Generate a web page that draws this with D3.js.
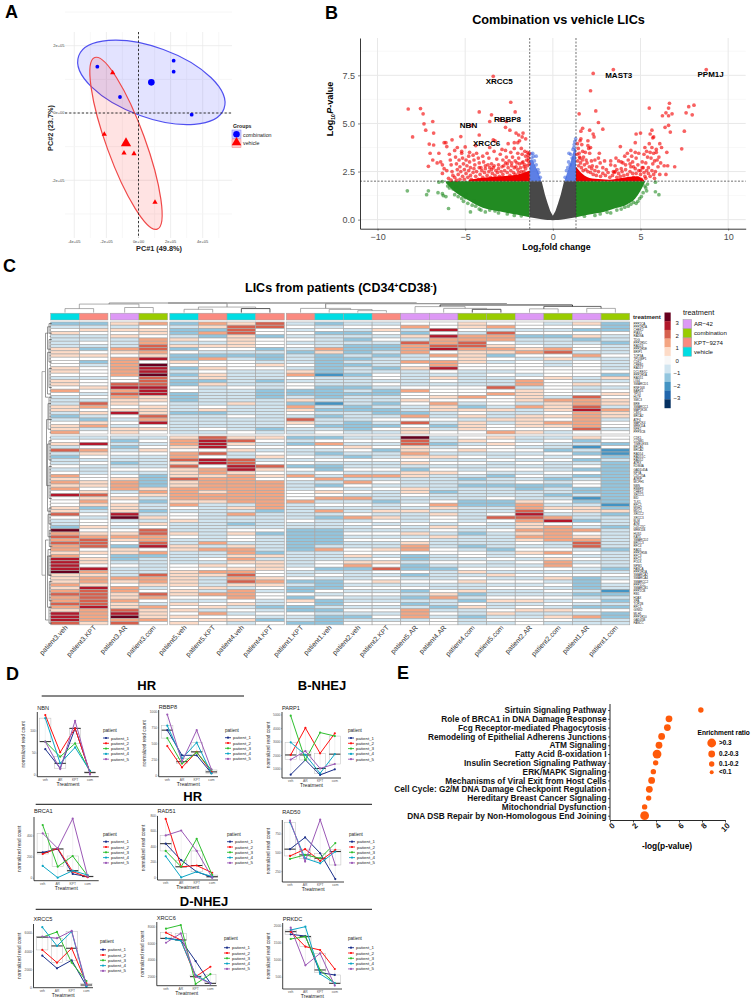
<!DOCTYPE html>
<html><head><meta charset="utf-8">
<script src="https://cdn.jsdelivr.net/npm/d3@7"></script>
<style>html,body{margin:0;padding:0;background:#fff}svg{display:block}text{font-family:"Liberation Sans",Arial,sans-serif}</style>
</head><body><svg id="c" width="753" height="1000"></svg>
<script>
// ===== DATA =====
// Panel A
const pcaCombination=[[-2.565,1.377],[-1.153,.475],[2.19,1.555],[2.19,1.228],[3.313,-.05]];
const pcaVehicle=[[-1.61,1.198],[-2.13,-.634],[-.903,-1.189],[-.28,-1.208],[1.028,-2.655]];
const pcaCentroids=[[.8,.911],[-.779,-.901]];
const pcaXTicks=[-4,-2,0,2,4], pcaYTicks=[-2,0,2];
const pcaXLabels=["-4e+05","-2e+05","0e+00","2e+05","4e+05"], pcaYLabels=["-2e+05","0e+00","2e+05"];
// Panel B
const volcanoGenes=[["XRCC5",-3.06,7.17],["NBN",-4.81,4.88],["RBBP8",-2.59,5.21],["XRCC6",-3.78,3.97],["MAST3",3.76,7.52],["PPM1J",9,7.53]];
const greenEnvR=[[1.32,.12],[2,.25],[3,.42],[3.6,.6],[4.2,.78],[4.7,1.1],[5,1.5],[5.25,1.95]];
const greenEnvL=[[-6.1,1.9],[-5.6,1.45],[-4.9,1.05],[-4,.62],[-3,.42],[-2,.25],[-1.32,.12]];
const grayTop=[[-1.32,2],[-.64,2],[-.45,1.3],[-.3,.85],[-.15,.45],[0,.2],[.15,.45],[.3,.85],[.45,1.3],[.64,2],[1.32,2]];
const grayLow=[-.6,-.03,.0,.04,.12];
const blueEnvL=[[2,-1.32,-.66],[2.4,-1.32,-.8],[2.8,-1.32,-1],[3.1,-1.32,-1.15]];
const blueEnvR=[[2,.66,1.32],[2.4,.8,1.32],[2.8,.95,1.32],[3.2,1.08,1.32],[3.7,1.22,1.32]];
const redEnvL=[[-4.8,2.08],[-4,2.18],[-3,2.25],[-2,2.35],[-1.32,2.55]];
const redEnvR=[[1.32,2.75],[1.8,2.3],[2.4,2.12],[3.2,2.08],[4,2.18],[4.8,2.25],[5.2,2.05]];
const bluePoints=[[-1.25,3.42],[-1.15,3.45],[-1.1,3.3],[-1.05,3.05],[-.95,2.85],[-.85,2.6],[-1.2,3.2],[-.95,3.3],[-.8,2.45],[-.72,2.2],[1.3,4.2],[1.25,4.05],[1.22,3.9],[1.15,3.65],[1.02,3.4],[.92,3.45],[.9,3],[.78,2.55],[.7,2.2],[1.1,3.2],[.98,2.85],[1.2,3.75],[.85,2.7]];
const redPointsL=[[-8.25,5.75],[-7.55,5.77],[-7.4,5.5],[-7.35,4.98],[-6.85,5.1],[-7.25,4.65],[-6.8,4.5],[-8,4.3],[-7.05,3.93],[-6.8,3.88],[-7,3.45],[-6.85,3.1],[-7.1,2.77],[-6.6,2.95],[-6.5,3.45],[-6.2,4],[-6.1,4],[-5.75,4.15],[-5.25,4.32],[-6.05,3.8],[-5,3.78],[-5.2,3.55],[-4.75,3.5],[-4.2,5.6],[-4.65,4.9],[-4.2,4.4],[-3.5,5.45],[-3.6,5.1],[-2.4,6.1],[-2.15,5.6],[-3.4,7.45],[-3,5.2],[-2.65,5.1],[-2.7,4.8],[-2.45,4.65],[-2.1,4.5],[-1.95,4.4],[-1.7,4.5],[-1.55,4.2],[-3.3,4.1],[-3.4,4.15],[-2,4],[-2.2,4],[-1.9,4.1],[-1.75,4.3],
[-6.4,3],[-6.3,2.85],[-6.2,2.65],[-6.3,2.4],[-6.05,2.55],[-5.9,3.4],[-5.85,3.1],[-5.8,2.85],[-5.75,2.5],[-5.7,2.3],[-5.6,3.6],[-5.55,3.25],[-5.5,2.9],[-5.45,2.6],[-5.35,3.1],[-5.3,2.75],[-5.2,3.45],[-5.15,3.2],[-5.1,2.9],[-5.05,2.6],[-4.95,3.1],[-4.9,2.8],[-4.8,3.3],[-4.75,3],[-4.7,2.7],[-4.55,3.35],[-4.5,3.1],[-4.45,2.85],[-4.35,3.45],[-4.25,3.2],[-4.2,2.95],[-4.1,2.7],[-4,3.3],[-3.95,3],[-3.85,2.8],[-3.75,3.45],[-3.65,3.2],[-3.6,2.7],[-3.5,2.9],[-3.4,2.7],[-3.35,3.55],[-3.2,3.15],[-3.1,2.85],[-3,3.4],[-2.9,3.65],[-2.85,3.1],[-2.8,2.8],[-2.7,3.6],[-2.65,3.25],[-2.6,2.9],[-2.5,3.05],[-2.4,3.5],[-2.35,2.8],[-2.3,3.25],[-2.2,3.7],[-2.15,3.05],[-2.1,2.75],[-2,3.45],[-1.95,3.2],[-1.9,2.9],[-1.8,3.7],[-1.75,3.4],[-1.7,3],[-1.65,2.75],[-1.6,3.55],[-1.55,3.3],[-1.5,3.1],[-1.45,3.5],[-1.4,3.35],[-1.35,3.45],[-3.6,3.75],[-4.4,3.85],[-5.45,3.75],[-2.55,3.95]];
const redDenseL=[[-5.95,2.15],[-5.8,2.05],[-5.6,2.2],[-5.5,2.05],[-5.4,2.35],[-5.3,2.1],[-5.25,2.5],[-5.15,2.25],[-5.05,2.1],[-4.95,2.4],[-4.85,2.2],[-4.8,2.55],[-4.7,2.3],[-4.65,2.1],[-4.55,2.45],[-4.5,2.65],[-4.4,2.25],[-4.35,2.5],[-4.25,2.1],[-4.2,2.7],[-4.15,2.35],[-4.05,2.55],[-4,2.2],[-3.9,2.45],[-3.85,2.65],[-3.75,2.3],[-3.7,2.85],[-3.65,2.5],[-3.55,2.2],[-3.5,2.6],[-3.45,2.4],[-3.35,2.8],[-3.3,2.3],[-3.25,2.55],[-3.15,2.45],[-3.1,2.65],[-3.05,2.25],[-2.95,2.5],[-2.9,2.75],[-2.85,2.35],[-2.75,2.55],[-2.7,2.95],[-2.6,2.45],[-2.55,2.7],[-2.45,2.3],[-2.4,2.55],[-2.35,2.95],[-2.25,2.45],[-2.2,2.7],[-2.15,2.35],[-2.05,2.95],[-2,2.6],[-1.95,2.45],[-1.85,2.7],[-1.8,2.5],[-1.75,2.95],[-1.65,2.5],[-1.6,2.85],[-1.55,2.65],[-1.45,2.8],[-1.4,3.05],[-1.35,2.9],[-1.38,3.2]];
const redPointsR=[[2.3,7.6],[3.45,7.8],[8.75,7.8],[2.15,6.7],[2.45,5.65],[1.5,5.5],[2.6,5.05],[2.85,4.7],[1.7,4.75],[1.6,4.6],[2.1,4.65],[2.3,4.45],[2.35,4.3],[1.6,4.2],[1.55,4.1],[2,4.1],[5.5,5.8],[6.65,6.05],[6.6,5.8],[8.05,5.95],[7.75,5.87],[7.6,5.55],[7.95,5.45],[6.25,5.4],[6.45,5.55],[6.6,5.4],[6.8,5.5],[6.4,4.8],[6.6,4.9],[6.7,4.55],[7.5,4.6],[7.35,3.68],[6.95,2.75],[6.55,2.8],[6.35,2.8],[6.45,2.35],[6.1,2.35],[5.8,2.15],[6.5,3.5],[6.1,3.95],[6.2,3.75],[5.65,4.65],[5.55,4.45],[4.75,4.45],[5,4.5],[4.7,4],[3.85,3.8],[3.6,3.2],[3.9,3],[5.75,4.3],[5.7,4.25],
[1.4,3.95],[1.45,3.7],[1.5,3.45],[1.55,3.2],[1.65,3.9],[1.7,3.55],[1.75,3.25],[1.85,3.5],[1.9,3.1],[2,3.85],[2.05,3.7],[2.1,3.45],[2.15,3.75],[2.2,3.05],[2.25,2.8],[2.4,3.1],[2.5,2.75],[2.65,3.45],[2.7,2.95],[2.85,2.7],[2.95,3.05],[3.05,2.6],[3.3,2.85],[3.45,2.5],[3.55,2.8],[3.65,2.6],[3.75,3.05],[3.9,2.65],[4,2.95],[4.1,3.3],[4.15,2.85],[4.25,3.45],[4.3,3.1],[4.4,2.9],[4.45,3.6],[4.5,3.3],[4.55,3],[4.6,2.75],[4.7,3.5],[4.75,3.2],[4.85,2.85],[4.9,3.45],[5,2.55],[5.1,3],[5.15,2.7],[5.2,3.4],[5.25,3.75],[5.3,2.95],[5.35,3.55],[5.4,3.25],[5.45,2.7],[5.5,3.95],[5.55,3.5],[5.6,3.2],[5.65,3.75],[5.7,2.9],[5.75,3.45],[5.8,3.05],[5.85,2.5],[5.9,3.5],[5.95,3.1],[6,2.75],[6.05,3.25],[6.15,2.95],[5.45,2.4],[5.3,2.15],[3.3,3.05],[3.5,2.45],[2.6,3.2],[5.9,3.65]];
const redDenseR=[[1.38,3.4],[1.42,3.05],[1.47,2.8],[1.52,3.25],[1.58,2.95],[1.63,2.7],[1.68,3.1],[1.73,2.55],[1.8,2.85],[1.88,2.6],[1.95,2.95],[2,2.5],[2.08,2.75],[2.15,2.45],[2.22,2.65],[2.3,2.35],[2.4,2.55],[2.48,2.3],[2.6,2.5],[2.72,2.25],[2.85,2.4],[3,2.3],[3.15,2.45],[3.25,2.2],[3.4,2.3],[3.55,2.5],[3.65,2.2],[3.75,2.4],[3.85,2.25],[3.95,2.5],[4.05,2.3],[4.15,2.6],[4.25,2.35],[4.3,2.15],[4.4,2.5],[4.45,2.75],[4.55,2.4],[4.6,2.2],[4.7,2.65],[4.75,2.4],[4.85,2.15],[4.9,2.55],[5,2.35],[5.05,2.1],[5.1,2.7],[5.2,2.45],[5.25,2.25],[5.35,2.55],[5.55,2.25],[5.65,2.55],[5.75,2.35]];
const greenPoints=[[-8.3,1.5],[-7.2,1.3],[-7.1,1.5],[-6.55,1.4],[-6.3,1.35],[-6.25,1.25],[-6.1,1.2],[-5.9,1.65],[-5.7,1.6],[-5.4,1.2],[-5.3,1.55],[-5.2,1.1],[-4.95,1.3],[-4.7,.4],[-4.6,.75],[-4.5,.95],[-5.95,.58],[-6.5,1.95],[-6.3,1.98],[-5.85,1.85],[-4.2,.55],[-3.85,.4],[-3.3,.45],[-2.6,.3],[5.85,1.95],[6.05,1.3],[5.85,1.45],[5.3,1.65],[5.25,1.75],[5.05,1.2],[4.85,.95],[4.6,.9],[4.3,.7],[3.9,.55],[3.3,.35],[2.7,.3],
[-6,1.75],[-5.75,1.9],[-5.6,1.3],[-5.5,1.7],[-5.1,.95],[-5,1.15],[-4.85,.85],[-4.4,.7],[-4.1,.5],[-3.6,.5],[-3.1,.35],[-2.2,.22],[-1.8,.2],[5.4,1.85],[5.35,1.5],[5.15,1.4],[4.95,1.1],[4.75,.85],[4.45,.8],[4.1,.65],[3.65,.5],[3.1,.38],[2.4,.22],[1.8,.18]];
// Panel C
const treatmentNames=["AR\u221242","combination","KPT\u22129274","vehicle"];
const columnNames=["patient3.veh","patient3.KPT","patient3.AR","patient3.com","patient5.veh","patient5.KPT","patient4.veh","patient4.KPT","patient1.KPT","patient1.veh","patient2.veh","patient2.KPT","patient5.AR","patient4.AR","patient4.com","patient5.com","patient2.AR","patient2.com","patient1.AR","patient1.com"];
const columnTreatment=[3,2,0,1,3,2,3,2,2,3,3,2,0,0,1,1,0,1,0,1];
const columnGroup=[0,0,1,1,2,2,2,2,3,3,3,3,3,3,3,3,3,3,3,3];
const geneRowsTop=["PPP2CA","PPP2R2A","CHEK2","PIAS1","RAD9A","TDG","PPP2R5C","RAD23","PPP2R5E","BRIP1","TOP3A","TP53BP1","CDK2","CREB1","RAD17","DCLRE1C","PPP2R5A","RAD51","LIG4","SMARCD1","RNF168","BARD1","TP53","HLTF","SMC3","BRE","SMARCC1","MAP3K1K","CBX1","BRCA2","ATF4","MAP2K4","MRE11A","NFE2","PPP3CB"];
const geneRowsBottom=["CDK1","CCNB1","TIMELESS","BRCA1","BRCA2","RAD54","RAD51C","RAD52","ATRX","KDM4A","GADD45A","NFYA","CDC25A","ATRIP","MCPH1","NBN","RBBP8","CHEK1","XRCC5","BID","TLK1","RFC2","MSH2","MDC1","XRCC2","XRCC3","BLM","ATM","CDC25C","MRE11B","HUS1","KAT5","SMARCD2","BRCC3","RFC4","RAD1","PPP2R5B","RFC3","RFC5","POLK","NPM1","FANCA","PPP2R1A","SMARCA2","SMARCA4","SMARCC2","PPP1CC","SMARCB1","PPP2CB","RB1","H2AX","XPA","TOP2B","RFC1","GINS2","MLH1","PPP1R10","GAD45B","FANCC"];
const heatTop=[
"=-.+----+++...++.-++.o.---++-=-.++o",
"=-+.--.-=.+.=-...-..+.-.-xo.+-=+o-.",
"+-+.+---o+.oooooo..xXoxo++.+X.-.-++",
"o.++.ooxxo+X.MXXMxxxXXX++.+++xoX.+.",
"=-==-+-+=.==+.=-=-==..===---=------",
"o+=o=.-+.-=o..+.++=+------.+=----.-",
"+xxx++++.-=-...-----.----+---.----.",
"xx..=...=-==-+.---=--===---------=-",
"-.-.-.-.-=---.-+o.-..==-+=o+.-x+.--",
"=-.=----o+======#---====-#-=-=--=-.",
"-.-=-=-===-=-=--=---=-=---==---===-",
"-.+.-.-==-=---=-..-.-==--=-==-.-=.-",
".o-=+-xooo--o.+-----.o..+.--=o.x.++",
"..X.XooxX.o.ooX.-+.-...+.o++--.-=-.",
"++.-ooxxo++++..-----...o.-=+.+-+++.",
".o-xoo.+o+=.-..-.---x.o...-+--+-..o",
"..-.=--.+o.-....-.oo-++++-o--++++.+",
"-.-.=---ox.+--...+.....-o+++.+.o+.-",
"+.=.+=-..-o-.....--+--.xooxXooooox.",
"===.--=---.----.=+-.-.+.++-o++-..-."];
const heatBottom=[
"-.+-x-=--.-.o+o+o.X...++x.--=Moxoxoo+oXXXXM+++o+oxooxo+XXXx",
"-.X.o+.-.---..++.+x+o+=-.-..+.+oxxx.+.++.Xo+oo+XxxxxxXoooo+",
"-=-=-.--=-.-.+ooo-.+.+++XM-.-.+o+.=++==-.---o+.oo++o++xXMoxx",
"-.-.+.----.-====+o+-=--=-+-+.xxooxX.o=-----xoo+-.xo.-o+++o",
"+oo+.oox+x+++x++oooo+o.-..+---+.--++----..+++++.++.-+.+.+.+",
"xXXX.x.XX.oo+oooo+oo+------------o-o--.-+.o+---+-o.-.+-o.+.",
"+x+.+--xxXX+ooooooooo-+-o--=-.+..-+oo+o+.+oxox+-ooo.+-.-.+-",
"+.-.-.+-.x+.+.ooooooooo=-----.=-----=+-+++..+o+.-..--=-.-=.",
"=-=.--.-.=.-o.---...o-----.--=======-----.--.=-==.=+.==.--==",
"=.o.-=-.-==.-o-=.+.o-.-o-=---=====-o---..=-.-===.-.==-=-===",
"-.-+.-=.--.-o-o.-.-o-.--.o-.--.-.--..+-+o=---.-.-.--.-.-=-",
"-.-.=--.--.-o-.-.---=--+-+.-.-.-.--+.-.+.x.-.+-.-.--.-.-.-",
"Mxx++o+.+-=++---++.--.-+---.--+-.+oo.==-==.=-.-.=-=-=-ooo-.+",
"--=-.-+-.-.+-----=--.o+-+..-+.-+---..--.-=---.--.+o--=-.-.",
".+-.+-.-.--.-=-=----==-----.--=---=-..-.-.+-.+--+=-=.+--=--",
"+.+..--.--.-=--=---.==--.x.--.-----=--.--.-+-.-.--.+--.+-.-",
"--.-.-.-.-.-.-.==---+ooxXxo++o+o+.-.+.-.-.-.-.-.--.+-.+--.",
"-.--=.-.---.-=-=--=-.-+.-oX.ooooo--.o.+oo.-.+-.-.-.-.-+-+.-",
"+=-#-=.=-.=.=-..==-#=-++--=.-o.+oxx-.-.-.--.====-=-.-=.-o--.",
"..=.##=-=============#=+=---=------=-----=-.-.--#=-=-=.==--==="];
const rowBrackets=[[15,78,42],[3,23,45.5],[30,50,46.5],[67,92,45.5],[70,78,48],[1,8,47.5],[9,22,47.5],[25,33,48],[37,58,47.5],[59,66,48],[72,88,47.5],[0,3,49],[5,12,49],[14,20,49],[23,30,49],[36,42,49],[44,54,49],[57,62,49],[64,69,49.3],[72,78,49],[80,86,49.3],[88,93,49]];
// Panel D
const treatments=["veh","AR","KPT","com"];
const patients=["patient_1","patient_2","patient_3","patient_4","patient_5"];
const NBN=[[59,16,106,6],[136,52,106,6],[76,42,72,8],[129,27,63,10],[76,14,123,2]];
const RBBP8=[[715,320,320,40],[465,130,375,60],[590,190,365,90],[785,270,520,35],[960,220,715,100]];
const PARP1=[[580,1670,560,975],[2040,4040,2160,3640],[4950,1670,3700,3440],[2975,2040,680,2100],[1700,2330,1040,1370]];
const BRCA1=[[245,277,41,16],[230,283,63,10],[504,110,211,22],[117,6,72,31],[425,283,564,16]];
const RAD51=[[441,227,77,4],[762,141,158,64],[347,141,505,34],[278,4,77,13],[548,612,347,0]];
const RAD50=[[549,705,495,152],[459,549,393,540],[419,473,428,629],[905,428,361,517],[927,384,940,339]];
const XRCC5=[[3550,2160,3040,220],[4175,2780,4360,510],[5570,6150,2780,770],[6670,4615,6190,150],[5640,5460,6260,330]];
const XRCC6=[[6630,6430,3890,1200],[7310,6430,2000,3200],[7800,8240,1120,2300],[6630,6350,2200,1200],[6100,7230,2000,1200]];
const PRKDC=[[1756,1707,636,568],[1834,1396,1298,743],[1620,1688,714,325],[1883,1980,597,325],[1950,850,1200,257]];
const nbnTicks=[0,50,100],rbbp8Ticks=[0,250,500,750,1000],parp1Ticks=[1000,2000,3000,4000,5000],brca1Ticks=[0,200,400],rad51Ticks=[0,200,400,600,800],rad50Ticks=[250,500,750],xrcc5Ticks=[0,2000,4000,6000],xrcc6Ticks=[2000,4000,6000,8000],prkdcTicks=[500,1000,1500,2000];
// Panel E
const pathways=["Sirtuin Signaling Pathway","Role of BRCA1 in DNA Damage Response","Fcg Receptor-mediated Phagocytosis","Remodeling of Epithelial Adherens Junctions","ATM Signaling","Fatty Acid \u00df-oxidation I","Insulin Secretion Signaling Pathway","ERK/MAPK Signaling","Mechanisms of Viral Exit from Host Cells","Cell Cycle: G2/M DNA Damage Checkpoint Regulation","Hereditary Breast Cancer Signaling","Mitochondrial Dysfunction","DNA DSB Repair by Non-Homologous End Joining"];
const pathwayValues=[7.9,5.13,4.99,4.49,4.26,4.09,3.97,3.77,3.62,3.42,3.36,3.01,3.01];
const pathwayRatioClass=[1,2,2,2,2,3,1,1,2,2,1,1,3];
const ratioLabels=["<0.1","0.1-0.2","0.2-0.3",">0.3"];

// ===== DRAW =====
const svg=d3.select("#c"), F='"Liberation Sans",Arial,sans-serif';
const T=(g,x,y,s,size,o={})=>g.append("text").attr("x",x).attr("y",y).text(s).attr("font-size",size).attr("font-weight",o.b?"bold":null).attr("text-anchor",o.a||"start").attr("fill",o.c||"#000").attr("transform",o.r!=null?`rotate(${o.r} ${x} ${y})`:null);
[["A",5,18],["B",325,19],["C",3,272],["D",6,680],["E",397,679]].forEach(d=>T(svg,d[1],d[2],d[0],18,{b:1}));

// --- Panel A
(function(){
 const g=svg.append("g");
 const x=d3.scaleLinear().domain([-4,4]).range([74.3,202.7]), y=d3.scaleLinear().domain([-2,2]).range([180.3,45.7]);
 const L=65,R=232,Tp=32,B=238;
 const vx=d3.range(-4,6), vy=d3.range(-3,4);
 vx.forEach(v=>g.append("line").attr("x1",x(v)).attr("x2",x(v)).attr("y1",Tp).attr("y2",B).attr("stroke",v%2?"#f4f4f4":"#e8e8e8").attr("stroke-width",.7));
 vy.forEach(v=>g.append("line").attr("y1",y(v)).attr("y2",y(v)).attr("x1",L).attr("x2",R).attr("stroke",v%2?"#f4f4f4":"#e8e8e8").attr("stroke-width",.8));
 g.append("ellipse").attr("rx",77.3).attr("ry",35).attr("transform",`translate(${x(pcaCentroids[0][0])},${y(pcaCentroids[0][1])}) rotate(20)`).attr("fill","rgba(0,0,255,.11)").attr("stroke","#5050f0").attr("stroke-width",1.2);
 g.append("ellipse").attr("rx",19.3).attr("ry",91.3).attr("transform",`translate(${x(pcaCentroids[1][0])},${y(pcaCentroids[1][1])}) rotate(-20)`).attr("fill","rgba(255,0,0,.11)").attr("stroke","#f04848").attr("stroke-width",1.2);
 g.append("line").attr("x1",L).attr("x2",R).attr("y1",y(0)).attr("y2",y(0)).attr("stroke","#222").attr("stroke-width",.9).attr("stroke-dasharray","2.2 2");
 g.append("line").attr("x1",x(0)).attr("x2",x(0)).attr("y1",Tp).attr("y2",B).attr("stroke","#222").attr("stroke-width",.9).attr("stroke-dasharray","2.2 2");
 g.selectAll(null).data(pcaCombination).join("circle").attr("cx",d=>x(d[0])).attr("cy",d=>y(d[1])).attr("r",1.9).attr("fill","#0000ff");
 g.append("circle").attr("cx",x(pcaCentroids[0][0])).attr("cy",y(pcaCentroids[0][1])).attr("r",3.3).attr("fill","#0000ff");
 const tri=d3.symbol().type(d3.symbolTriangle);
 g.selectAll(null).data(pcaVehicle).join("path").attr("d",tri.size(12)()).attr("transform",d=>`translate(${x(d[0])},${y(d[1])})`).attr("fill","#ff0000");
 g.append("path").attr("d",d3.symbol().type(d3.symbolTriangle).size(46)()).attr("transform",`translate(${x(pcaCentroids[1][0])},${y(pcaCentroids[1][1])})`).attr("fill","#ff0000");
 pcaXTicks.forEach((v,i)=>T(g,x(v),243,pcaXLabels[i],4,{a:"middle",c:"#444"}));
 pcaYTicks.forEach((v,i)=>T(g,64.5,y(v)+1.3,pcaYLabels[i],4,{a:"end",c:"#444"}));
 T(g,159,251,"PC#1 (49.8%)",7.3,{a:"middle",b:1,c:"#222"});
 T(g,53,128,"PC#2 (23.7%)",7.3,{a:"middle",b:1,r:-90,c:"#222"});
 T(g,233,128,"Groups",5.2,{b:1,c:"#222"});
 g.append("rect").attr("x",232).attr("y",130).attr("width",9).attr("height",8.5).attr("fill","rgba(0,0,255,.2)").attr("stroke","#8080f0").attr("stroke-width",.5);
 g.append("rect").attr("x",232).attr("y",139).attr("width",9).attr("height",8.5).attr("fill","rgba(255,0,0,.2)").attr("stroke","#f08080").attr("stroke-width",.5);
 g.append("circle").attr("cx",236.5).attr("cy",134.2).attr("r",3.3).attr("fill","#0000ff");
 g.append("path").attr("d",d3.symbol().type(d3.symbolTriangle).size(40)()).attr("transform","translate(236.5,142.5)").attr("fill","#ff0000");
 T(g,243,137,"combination",5.3,{c:"#222"});T(g,243,145,"vehicle",5.3,{c:"#222"});
})();

// --- Panel B
(function(){
 const g=svg.append("g");
 const L=360,R=745.7,Tp=38,B=228.7;
 const x=d3.scaleLinear().domain([-11,11]).range([L,R]), y=d3.scaleLinear().domain([-.47,9.44]).range([B,Tp]);
 T(g,558.5,24,"Combination vs vehicle LICs",12.7,{a:"middle",b:1});
 [1.25,3.75,6.25,8.75].forEach(v=>g.append("line").attr("x1",L).attr("x2",R).attr("y1",y(v)).attr("y2",y(v)).attr("stroke","#f3f3f3").attr("stroke-width",.6));
 [0,2.5,5,7.5].forEach(v=>g.append("line").attr("x1",L).attr("x2",R).attr("y1",y(v)).attr("y2",y(v)).attr("stroke","#e8e8e8").attr("stroke-width",1));
 [-10,-5,0,5,10].forEach(v=>g.append("line").attr("y1",Tp).attr("y2",B).attr("x1",x(v)).attr("x2",x(v)).attr("stroke","#e8e8e8").attr("stroke-width",1));
 const dots=(d,c,o)=>g.selectAll(null).data(d).join("circle").attr("cx",p=>x(p[0])).attr("cy",p=>y(p[1])).attr("r",1.85).attr("fill",c).attr("fill-opacity",o);
 const grn=d3.area().x(d=>x(d[0])).y0(y(2)).y1(d=>y(d[1])).curve(d3.curveMonotoneX);
 g.append("path").attr("d",grn(greenEnvL)).attr("fill","#228B22");
 g.append("path").attr("d",grn(greenEnvR)).attr("fill","#228B22");
 dots(greenPoints,"#228B22",.6);
 const gl=d3.scaleLinear().domain([-1.32,-.5,0,.5,1.32]).range([grayLow[4],grayLow[2],grayLow[1],grayLow[2],grayLow[4]]);
 const gray=d3.area().x(d=>x(d[0])).y0(d=>y(gl(d[0]))).y1(d=>y(d[1]));
 g.append("path").attr("d",gray(grayTop)).attr("fill","#484848");
 const blue=d3.area().y(d=>y(d[0])).x0(d=>x(d[1])).x1(d=>x(d[2]));
 g.append("path").attr("d",blue(blueEnvL)).attr("fill","#4169E1").attr("fill-opacity",.85);
 g.append("path").attr("d",blue(blueEnvR)).attr("fill","#4169E1").attr("fill-opacity",.85);
 dots(bluePoints,"#4169E1",.6);
 const red=d3.area().x(d=>x(d[0])).y0(y(2)).y1(d=>y(d[1])).curve(d3.curveMonotoneX);
 g.append("path").attr("d",red(redEnvL)).attr("fill","#f00000");
 g.append("path").attr("d",red(redEnvR)).attr("fill","#f00000");
 dots(redPointsL,"#f40000",.62);dots(redPointsR,"#f40000",.62);dots(redDenseL,"#f40000",.62);dots(redDenseR,"#f40000",.62);
 [-1.32,1.32].forEach(v=>g.append("line").attr("y1",Tp).attr("y2",B).attr("x1",x(v)).attr("x2",x(v)).attr("stroke","#333").attr("stroke-width",.7).attr("stroke-dasharray","2 1.5"));
 g.append("line").attr("x1",L).attr("x2",R).attr("y1",y(2)).attr("y2",y(2)).attr("stroke","#333").attr("stroke-width",.7).attr("stroke-dasharray","2 1.5");
 const ax=g.append("g").attr("transform",`translate(0,${B})`).call(d3.axisBottom(x).tickValues([-10,-5,0,5,10]).tickSize(2).tickFormat(d=>String(d).replace("-","\u2212")).tickSizeOuter(0));
 const ay=g.append("g").attr("transform",`translate(${L},0)`).call(d3.axisLeft(y).tickValues([0,2.5,5,7.5]).tickSize(2).tickFormat(d3.format(".1f")).tickSizeOuter(0));
 [ax,ay].forEach(a=>{a.selectAll("text").attr("font-size",9).attr("font-family",F).attr("fill","#4d4d4d");a.select(".domain").attr("stroke","#222").attr("stroke-width",.9);a.selectAll("line").attr("stroke","#333").attr("stroke-width",.6)});
 volcanoGenes.forEach(d=>T(g,x(d[1]),y(d[2])+2.7,d[0],8,{a:"middle",b:1}));
 const xt=g.append("text").attr("x",556.5).attr("y",250).attr("text-anchor","middle").attr("font-size",8.8).attr("font-weight","bold");
 xt.append("tspan").text("Log");xt.append("tspan").text("2").attr("font-size",5).attr("dy",1.5);xt.append("tspan").text("fold change").attr("dy",-1.5);
 const yt=g.append("text").attr("transform","translate(333,109) rotate(-90)").attr("text-anchor","middle").attr("font-size",9).attr("font-weight","bold");
 yt.append("tspan").text("Log");yt.append("tspan").text("10").attr("font-size",5).attr("dy",1.5);yt.append("tspan").text("P").attr("font-style","italic").attr("dy",-1.5).attr("dx",.5);yt.append("tspan").text("-value");
})();

// --- Panel C
(function(){
 const g=svg.append("g");
 const cw=28.62, gap=[0,2.4,4.6,6.6];
 const colX=d3.scaleLinear().domain([0,1]).range([0,cw]);
 const X=i=>50.7+colX(i)+gap[columnGroup[i]];
 const rh=3.2, top0=322, top1=436;
 const levels={".":0,"-":-.7,"=":-1.6,"#":-2.4,"+":.7,"o":1.5,"x":2.3,"X":3,"M":3.7};
 const scale=d3.scaleThreshold().domain([-3.2,-2.6,-2,-1.3,-.4,.4,1.1,1.9,2.7,3.4]).range(["#053061","#2166AC","#4393C3","#92C5DE","#D1E5F0","#FFFFFF","#FDDBC7","#F4A582","#D6604D","#B2182B","#67001F"]);
 const annot=["#DD99F5","#99CC00","#FA8A80","#00DDE3"];
 const draw=(mat,y0,n)=>{mat.forEach((s,c)=>{d3.range(n).forEach(r=>{const ch=s[r]||".";
   g.append("rect").attr("x",X(c)).attr("y",y0+r*rh).attr("width",cw).attr("height",rh).attr("fill",scale(levels[ch])).attr("stroke","#a8a8a8").attr("stroke-width",.65);});});};
 draw(heatTop,top0,35);draw(heatBottom,top1,59);
 columnTreatment.forEach((t,i)=>g.append("rect").attr("x",X(i)).attr("y",313.2).attr("width",cw).attr("height",6.8).attr("fill",annot[t]).attr("stroke","#a0a0a0").attr("stroke-width",.5));
 columnNames.forEach((s,i)=>{const cx=X(i)+cw/2+3;T(g,cx,628,s,6.9,{a:"end",r:-47,c:"#333"});});
 geneRowsTop.forEach((s,i)=>T(g,633.5,top0+i*rh+2.6,s,3,{c:"#222"}));
 geneRowsBottom.forEach((s,i)=>T(g,633.5,top1+i*rh+2.6,s,3,{c:"#222"}));
 T(g,633,319,"treatment",6.1,{b:1,c:"#222"});
 // top dendrogram
 const mids=i=>X(i)+cw/2, Y=h=>303+h*9;
 const link=(a,b,h,w,c)=>g.append("path").attr("d",`M${a.x},${a.y}V${Y(h)}H${b.x}V${b.y}`).attr("fill","none").attr("stroke",c||"#777").attr("stroke-width",w||.6);
 const leaf=i=>({x:mids(i),y:312.6});
 const node=(a,b,h,w,c)=>{link(a,b,h,w,c);return{x:(a.x+b.x)/2,y:Y(h)};};
 const a=node(node(leaf(0),leaf(1),.62),node(leaf(2),leaf(3),.5),.12);
 const b=node(node(leaf(4),leaf(5),.7),node(leaf(6),leaf(7),.62,.9,"#444"),.45);
 const ab=node(a,b,0,.8);
 const c1=node(leaf(8),node(leaf(9),node(leaf(10),leaf(11),.85),.72),.6);
 const d1=node(leaf(12),node(leaf(13),node(leaf(14),leaf(15),.7,.9,"#444"),.6),.4);
 const e1=node(node(leaf(16),leaf(17),.65),node(leaf(18),leaf(19),.6),.38,.8,"#444");
 const f1=node(d1,e1,.22,1,"#333");
 const g1=node(c1,f1,.08,1.2,"#999");
 node(ab,g1,.0,1.4,"#999");
 // left dendrogram
 const rowY=r=>r<35?top0+(r+.5)*rh:top1+(r-35+.5)*rh;
 rowBrackets.forEach(d=>{g.append("path").attr("d",`M${d[2]+3},${rowY(d[0])}H${d[2]}V${rowY(d[1])}H${d[2]+3}`).attr("fill","none").attr("stroke",d[2]<44?"#777":"#555").attr("stroke-width",.6);});
 d3.range(94).forEach(r=>g.append("line").attr("x1",49.6).attr("x2",50.7).attr("y1",rowY(r)).attr("y2",rowY(r)).attr("stroke","#333").attr("stroke-width",.5));
 // colour bar
 const bar=["#67001F","#B2182B","#D6604D","#F4A582","#FDDBC7","#F7F7F7","#D1E5F0","#92C5DE","#4393C3","#2166AC","#053061"];
 const by=d3.scaleLinear().domain([0,11]).range([312.5,408]);
 bar.forEach((c,i)=>g.append("rect").attr("x",664.5).attr("y",by(i)).attr("width",6.2).attr("height",by(1)-by(0)+.2).attr("fill",c));
 const ly=d3.scaleLinear().domain([3,-3]).range([323,398]);
 [3,2,1,0,-1,-2,-3].forEach(v=>T(g,v<0?673.5:675.5,ly(v)+2,String(v).replace("-","\u2212"),6,{c:"#222"}));
 T(g,683,314.5,"treatment",7.4,{c:"#111"});
 treatmentNames.forEach((s,i)=>{g.append("rect").attr("x",683).attr("y",319.5+i*9.2).attr("width",8.6).attr("height",9.2).attr("fill",annot[i]).attr("stroke","#a0a0a0").attr("stroke-width",.5);T(g,694,326.2+i*9.2,s,6.1,{c:"#111"});});
 const tt=g.append("text").attr("x",245).attr("y",291.5).attr("font-size",12.5).attr("font-weight","bold");
 tt.append("tspan").text("LICs from patients (CD34");tt.append("tspan").text("+").attr("font-size",7).attr("dy",-3.5);tt.append("tspan").text("CD38").attr("dy",3.5);tt.append("tspan").text("-").attr("font-size",7).attr("dy",-3.5);tt.append("tspan").text(")").attr("dy",3.5);
})();

// --- Panel D
(function(){
 const g=svg.append("g");
 const cols=["#1B2F8A","#FF1010","#2FBF2F","#0AA5C5","#9B59B6"];
 const head=(s,x,y)=>T(g,x,y,s,13,{a:"middle",b:1});
 head("HR",146.7,689.5);head("B-NHEJ",322,689.5);head("HR",192.7,800.5);head("D-NHEJ",204,905.5);
 [[41.7,244,696],[35.7,372,804.3],[35.7,372,909.3]].forEach(d=>g.append("line").attr("x1",d[0]).attr("x2",d[1]).attr("y1",d[2]).attr("y2",d[2]).attr("stroke","#111").attr("stroke-width",1));
 // layout: name,data,ticks, axisX,right,top,bottom, tick value a/px a,value b/px b, first cat x,cat step, title y, legend x, title y, first entry y
 const P=[
 ["NBN",NBN,nbnTicks,37.3,98.7,712,776.7,[0,775.3],[100,731],45.3,14.9,710,103,732,738],
 ["RBBP8",RBBP8,rbbp8Ticks,158.7,218,710,776.7,[0,775.7],[1000,712],167.3,14.7,709,225,732,737.7],
 ["PARP1",PARP1,parp1Ticks,282,341,712,778,[1000,769],[5000,715],290.7,14.7,709.5,348,732,738],
 ["BRCA1",BRCA1,brca1Ticks,34,98.7,817,880.7,[0,878.3],[400,836],42.7,15,813,103,836,841.7],
 ["RAD51",RAD51,rad51Ticks,157.5,218,816,880,[0,877.7],[800,816],158.5,15.5,812.5,227,836,841.7],
 ["RAD50",RAD50,rad50Ticks,282.3,344,820,882,[250,871.7],[750,834],290,15.1,813.5,349,836,841.7],
 ["XRCC5",XRCC5,xrcc5Ticks,33.5,93,924,987.7,[0,988],[6000,933.3],42.3,14.7,921,100,943,949.7],
 ["XRCC6",XRCC6,xrcc6Ticks,156.8,216.7,922,985.7,[2000,976.7],[8000,927],166,14.8,919.5,224,940,947.7],
 ["PRKDC",PRKDC,prkdcTicks,282.7,342,923,989,[500,977.3],[2000,926],290.7,14.7,920.5,348,940,947.7]];
 P.forEach(p=>{
  let [name,data,ticks,L,R,Tp,B,ta,tb,c0,cs,ty,lx,lty,ly]=p;
  if(name==="RAD51")c0=165.7;
  const y=d3.scaleLinear().domain([ta[0],tb[0]]).range([ta[1],tb[1]]);
  const x=d3.scalePoint().domain(treatments).range([c0,c0+3*cs]);
  T(g,L,ty,name,5.6,{c:"#222"});
  treatments.forEach((t,i)=>{
   const vals=data.map(d=>d[i]).sort(d3.ascending);
   const q1=d3.quantile(vals,.25),m=d3.quantile(vals,.5),q3=d3.quantile(vals,.75);
   g.append("rect").attr("x",x(t)-5.6).attr("width",11.2).attr("y",y(q3)).attr("height",y(q1)-y(q3)).attr("fill","none").attr("stroke","#bbb").attr("stroke-width",.5);
   g.append("line").attr("x1",x(t)).attr("x2",x(t)).attr("y1",y(vals[4])).attr("y2",y(vals[0])).attr("stroke","#ddd").attr("stroke-width",.4);
   g.append("line").attr("x1",x(t)-5.6).attr("x2",x(t)+5.6).attr("y1",y(m)).attr("y2",y(m)).attr("stroke","#111").attr("stroke-width",.9);
  });
  data.forEach((d,i)=>{
   g.append("path").attr("d",d3.line().x((v,j)=>x(treatments[j])).y(v=>y(v))(d)).attr("fill","none").attr("stroke",cols[i]).attr("stroke-width",1);
   d.forEach((v,j)=>g.append("circle").attr("cx",x(treatments[j])).attr("cy",y(v)).attr("r",1.1).attr("fill",cols[i]));
  });
  g.append("path").attr("d",`M${L},${Tp}V${B}H${R}`).attr("fill","none").attr("stroke","#111").attr("stroke-width",.8);
  ticks.forEach(v=>{g.append("line").attr("x1",L-1).attr("x2",L).attr("y1",y(v)).attr("y2",y(v)).attr("stroke","#333").attr("stroke-width",.3);T(g,L-1.6,y(v)+1,v,3.3,{a:"end",c:"#555"});});
  treatments.forEach(t=>T(g,x(t),B+4.3,t,3.3,{a:"middle",c:"#555"}));
  T(g,(L+R)/2,B+9,"Treatment",5.1,{a:"middle",c:"#222"});
  T(g,L-12.5,(Tp+B)/2,"normalized read count",4.7,{a:"middle",r:-90,c:"#333"});
  T(g,lx,lty,"patient",4.6,{c:"#222"});
  patients.forEach((s,i)=>{const yy=ly+i*5.3;
   g.append("line").attr("x1",lx).attr("x2",lx+6).attr("y1",yy).attr("y2",yy).attr("stroke",cols[i]).attr("stroke-width",.9);
   g.append("circle").attr("cx",lx+3).attr("cy",yy).attr("r",1.1).attr("fill",cols[i]);
   T(g,lx+8,yy+1.5,s,4.4,{c:"#222"});});
 });
})();

// --- Panel E
(function(){
 const g=svg.append("g");
 const x=d3.scaleLinear().domain([0,10]).range([610,725]);
 const y=d3.scalePoint().domain(pathways).range([710,815.7]);
 const rad=d3.scaleOrdinal().domain([0,1,2,3]).range([2,2.7,3.4,4.4]);
 const c="#FF5A0A";
 g.selectAll(null).data(pathways).join("circle").attr("cx",(d,i)=>x(pathwayValues[i])).attr("cy",d=>y(d)).attr("r",(d,i)=>rad(pathwayRatioClass[i])).attr("fill",c);
 const ay=g.append("g").attr("transform","translate(610,0)").call(d3.axisLeft(y).tickSize(2).tickPadding(1.5));
 ay.selectAll("text").attr("font-size",8.3).attr("font-weight","bold").attr("font-family",F).attr("fill","#111");
 ay.select(".domain").attr("d","M0,704V820").attr("stroke","#111").attr("stroke-width",.9);
 ay.selectAll("line").attr("stroke","#111").attr("stroke-width",.7);
 const ax=g.append("g").attr("transform","translate(0,820)").call(d3.axisBottom(x).tickValues([0,2,4,6,8,10]).tickSize(2.5).tickSizeOuter(0));
 ax.select(".domain").attr("stroke","#111").attr("stroke-width",.9);
 ax.selectAll("line").attr("stroke","#111").attr("stroke-width",.7);
 ax.selectAll("text").attr("font-size",7.8).attr("font-weight","bold").attr("font-family",F).attr("fill","#111").attr("text-anchor","end").attr("transform","rotate(-45) translate(-1,0)").attr("dy","0.5em").attr("y",4);
 T(g,667,848.5,"-log(p-value)",8.4,{a:"middle",b:1});
 T(g,697.5,734.5,"Enrichment ratio",6.6,{b:1});
 [[3,743],[2,754],[1,764],[0,772.3]].forEach(d=>{g.append("circle").attr("cx",711.7).attr("cy",d[1]).attr("r",rad(d[0])).attr("fill",c);T(g,719,d[1]+2,ratioLabels[d[0]],6.3,{b:1});});
})();
</script></body></html>
